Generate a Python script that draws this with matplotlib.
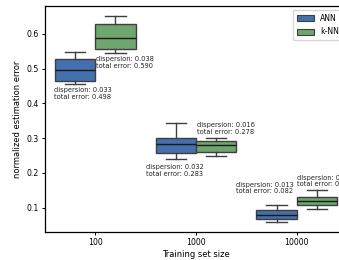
import matplotlib
matplotlib.use("Agg")
import matplotlib.pyplot as plt
from matplotlib.patches import Patch
import numpy as np

sizes = ["100", "1000", "10000"]
methods = ["ANN", "k-NN"]

# box statistics
ann_whislo = [0.457, 0.239, 0.060]
ann_q1 = [0.463, 0.256, 0.067]
ann_med = [0.497, 0.282, 0.080]
ann_q3 = [0.529, 0.301, 0.092]
ann_whishi = [0.549, 0.343, 0.108]

knn_whislo = [0.545, 0.249, 0.095]
knn_q1 = [0.556, 0.260, 0.107]
knn_med = [0.589, 0.279, 0.119]
knn_q3 = [0.628, 0.293, 0.131]
knn_whishi = [0.651, 0.300, 0.150]

ann_disp = ["0.033", "0.032", "0.013"]
ann_total = ["0.498", "0.283", "0.082"]
knn_disp = ["0.038", "0.016", "0.017"]
knn_total = ["0.590", "0.278", "0.121"]

ann_txt_x = [-0.408, 0.507, 1.398]
ann_txt_y = [0.428, 0.207, 0.157]
knn_txt_x = [0.007, 1.010, 2.005]
knn_txt_y = [0.517, 0.328, 0.177]

colors = ["#4471ad", "#6fa56e"]
edge = "#3f3f3f"

fig = plt.figure(figsize=(3.39, 2.60), dpi=100)
ax = fig.add_axes([45 / 339, 1 - 231.7 / 260, 302 / 339, 225.7 / 260])

def stats(lo, q1, med, q3, hi):
    return [dict(whislo=a, q1=b, med=c, q3=d, whishi=e, fliers=[])
            for a, b, c, d, e in zip(lo, q1, med, q3, hi)]

pos = np.arange(len(sizes))
for off, st, col in [
    (-0.2, stats(ann_whislo, ann_q1, ann_med, ann_q3, ann_whishi), colors[0]),
    (0.2, stats(knn_whislo, knn_q1, knn_med, knn_q3, knn_whishi), colors[1]),
]:
    ax.bxp(st, positions=pos + off, widths=0.4, patch_artist=True,
           showfliers=False,
           boxprops=dict(facecolor=col, edgecolor=edge, linewidth=1.0),
           medianprops=dict(color="#1a1a1a", linewidth=1.0),
           whiskerprops=dict(color=edge, linewidth=1.0),
           capprops=dict(color=edge, linewidth=1.0),
           capwidths=0.2, manage_ticks=False)

for xs, ys, ds, ts in [(ann_txt_x, ann_txt_y, ann_disp, ann_total),
                       (knn_txt_x, knn_txt_y, knn_disp, knn_total)]:
    for x, y, d, t in zip(xs, ys, ds, ts):
        ax.text(x, y, f"dispersion: {d}\ntotal error: {t}", fontsize=4.8,
                ha="left", va="center", color="#222222", linespacing=1.1,
                clip_on=False)

ax.set_xlim(-0.5, 2.5)
ax.set_ylim(0.031, 0.680)
ax.set_xticks(pos)
ax.set_xticklabels(sizes)
ax.set_yticks([0.1, 0.2, 0.3, 0.4, 0.5, 0.6])
ax.set_yticklabels(["0.1", "0.2", "0.3", "0.4", "0.5", "0.6"])
ax.tick_params(labelsize=5.6, length=2.5, width=0.7, pad=2)
ax.set_xlabel("Training set size", fontsize=6.0, labelpad=2)
ax.set_ylabel("normalized estimation error", fontsize=6.0, labelpad=3)
for s in ax.spines.values():
    s.set_linewidth(0.9)

handles = [Patch(facecolor=c, edgecolor=edge, linewidth=0.8) for c in colors]
ax.legend(handles, methods, loc="upper right", fontsize=5.6, frameon=True,
          handlelength=2.2, handleheight=0.9, borderpad=0.5, labelspacing=0.6)

fig.savefig("out.png", dpi=100)
